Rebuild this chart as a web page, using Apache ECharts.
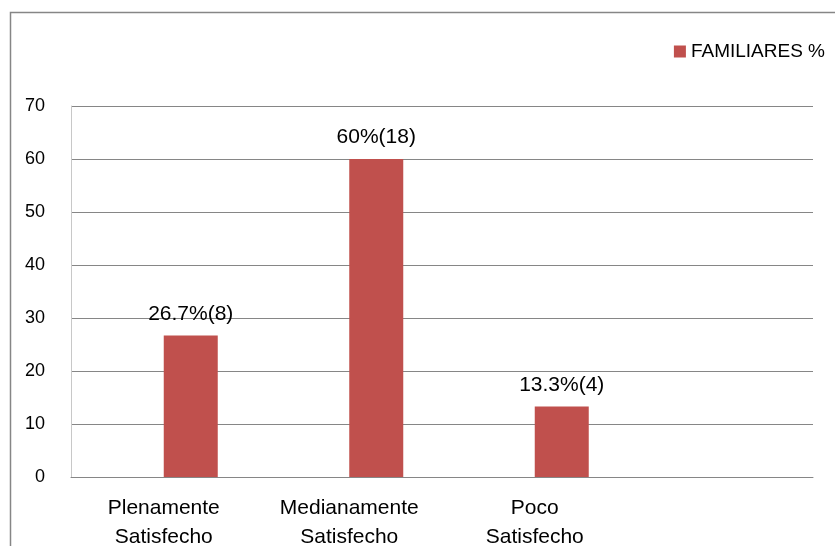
<!DOCTYPE html>
<html>
<head>
<meta charset="utf-8">
<script src="https://cdn.jsdelivr.net/npm/echarts@6/dist/echarts.min.js"></script>
<style>
  html, body { margin: 0; padding: 0; background: #fff; }
  #chart { width: 835px; height: 546px; }
</style>
</head>
<body>
<div id="chart"></div>
<script>
// datos
const categorias = ['Plenamente\nSatisfecho', 'Medianamente\nSatisfecho', 'Poco\nSatisfecho', ''];
const familiares = [26.7, 60, 13.3, null];
const etiquetas = ['26.7%(8)', '60%(18)', '13.3%(4)', ''];
const vacia = [null, null, null, null];
const yTicks = { min: 0, max: 70, interval: 10 };

const fuente = 'Liberation Sans';

const chart = echarts.init(document.getElementById('chart'));
chart.setOption({
    animation: false,
    backgroundColor: '#fff',
    graphic: [{
        type: 'rect',
        shape: { x: 10.5, y: 12.5, width: 900, height: 600 },
        style: { fill: 'none', stroke: '#868686', lineWidth: 1.5 },
        silent: true
    }],
    legend: {
        data: ['FAMILIARES %'],
        right: 5,
        top: 37,
        itemWidth: 12,
        itemHeight: 12,
        itemGap: 6,
        icon: 'rect',
        textStyle: { fontFamily: fuente, fontSize: 19, color: '#000' }
    },
    grid: {
        left: 71,
        right: 22,
        top: 106,
        bottom: 69,
        containLabel: false,
        outerBoundsMode: 'none'
    },
    xAxis: {
        type: 'category',
        data: categorias,
        axisTick: { show: false },
        axisLine: { lineStyle: { color: '#868686', width: 1 } },
        axisLabel: {
            interval: 0,
            margin: 17,
            fontFamily: fuente,
            fontSize: 21,
            lineHeight: 29,
            color: '#000'
        }
    },
    yAxis: {
        type: 'value',
        min: yTicks.min,
        max: yTicks.max,
        interval: yTicks.interval,
        axisLine: { show: true, lineStyle: { color: '#c8c8c8', width: 1 } },
        axisTick: { show: false },
        splitLine: { lineStyle: { color: '#868686', width: 1 } },
        axisLabel: {
            margin: 26,
            fontFamily: fuente,
            fontSize: 18,
            color: '#000'
        }
    },
    series: [
        {
            name: 'vacia',
            type: 'bar',
            barWidth: 54,
            barGap: '0%',
            data: vacia
        },
        {
            name: 'FAMILIARES %',
            type: 'bar',
            barWidth: 54,
            barGap: '0%',
            itemStyle: { color: '#C0504D' },
            label: {
                show: true,
                position: 'top',
                distance: 11,
                fontFamily: fuente,
                fontSize: 21,
                color: '#000',
                formatter: function (p) { return etiquetas[p.dataIndex]; }
            },
            data: familiares
        }
    ]
});
</script>
</body>
</html>
